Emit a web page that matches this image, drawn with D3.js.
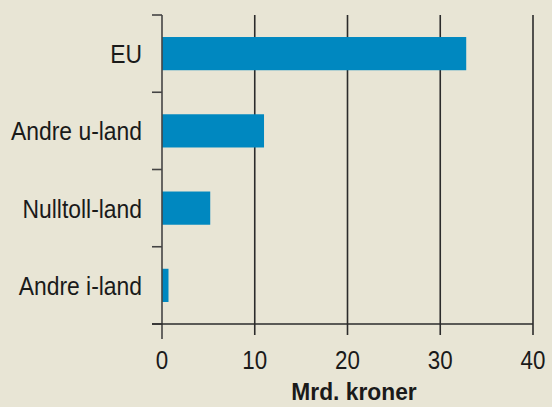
<!DOCTYPE html>
<html><head><meta charset="utf-8">
<script src="https://cdn.jsdelivr.net/npm/d3@7"></script>
<style>
body{margin:0;background:#e8e5d5;}
svg{display:block;}
text{font-family:"Liberation Sans","Arial",sans-serif;}
</style></head><body>
<svg id="c" width="552" height="407"></svg>
<script>
const categories = ["EU", "Andre u-land", "Nulltoll-land", "Andre i-land"];
const values = [32.8, 11.0, 5.2, 0.7];
const xTicks = [0, 10, 20, 30, 40];
const xTitle = "Mrd. kroner";

const svg = d3.select("#c");
svg.append("rect").attr("width",552).attr("height",407).attr("fill","#e8e5d5");

const x = d3.scaleLinear().domain([0,40]).range([162,533]);
const y = d3.scaleBand().domain(categories).range([15,324]).paddingInner(0.57).paddingOuter(0.285);
const ink = "#2b2b2b";

// gridlines
svg.append("g").selectAll("line").data(xTicks.slice(1)).join("line")
  .attr("x1",d=>x(d)).attr("x2",d=>x(d)).attr("y1",15).attr("y2",335)
  .attr("stroke",ink).attr("stroke-width",1.6);

// bars
svg.append("g").selectAll("rect").data(values).join("rect")
  .attr("x",x(0)).attr("y",(d,i)=>y(categories[i]))
  .attr("width",d=>x(d)-x(0)).attr("height",y.bandwidth())
  .attr("fill","#0088c0");

// y axis line & ticks
svg.append("line").attr("x1",x(0)).attr("x2",x(0)).attr("y1",15).attr("y2",339)
  .attr("stroke","#444").attr("stroke-width",1.6);
const bounds = [15].concat(categories.map((c,i)=>15 + (i+1)*(309/4)));
svg.append("g").selectAll("line").data(bounds).join("line")
  .attr("x1",152).attr("x2",x(0)).attr("y1",d=>d).attr("y2",d=>d)
  .attr("stroke","#444").attr("stroke-width",1.6);
// bottom axis
svg.append("line").attr("x1",152).attr("x2",x(40)).attr("y1",324).attr("y2",324)
  .attr("stroke",ink).attr("stroke-width",1.6);

// category labels
svg.append("g").selectAll("text").data(categories).join("text")
  .attr("transform",d=>`translate(142,${y(d)+y.bandwidth()/2}) scale(0.88,1)`)
  .attr("dy","0.37em")
  .attr("text-anchor","end").attr("font-size",26).attr("fill","#1a1a1a").text(d=>d);

// x tick labels
svg.append("g").selectAll("text").data(xTicks).join("text")
  .attr("transform",d=>`translate(${x(d)},369) scale(0.86,1)`)
  .attr("text-anchor","middle")
  .attr("font-size",26).attr("fill","#1a1a1a").text(d=>d);

svg.append("text").attr("transform","translate(354,400) scale(0.95,1)").attr("text-anchor","middle")
  .attr("font-size",24).attr("font-weight","bold").attr("fill","#1a1a1a").text(xTitle);
</script></body></html>
